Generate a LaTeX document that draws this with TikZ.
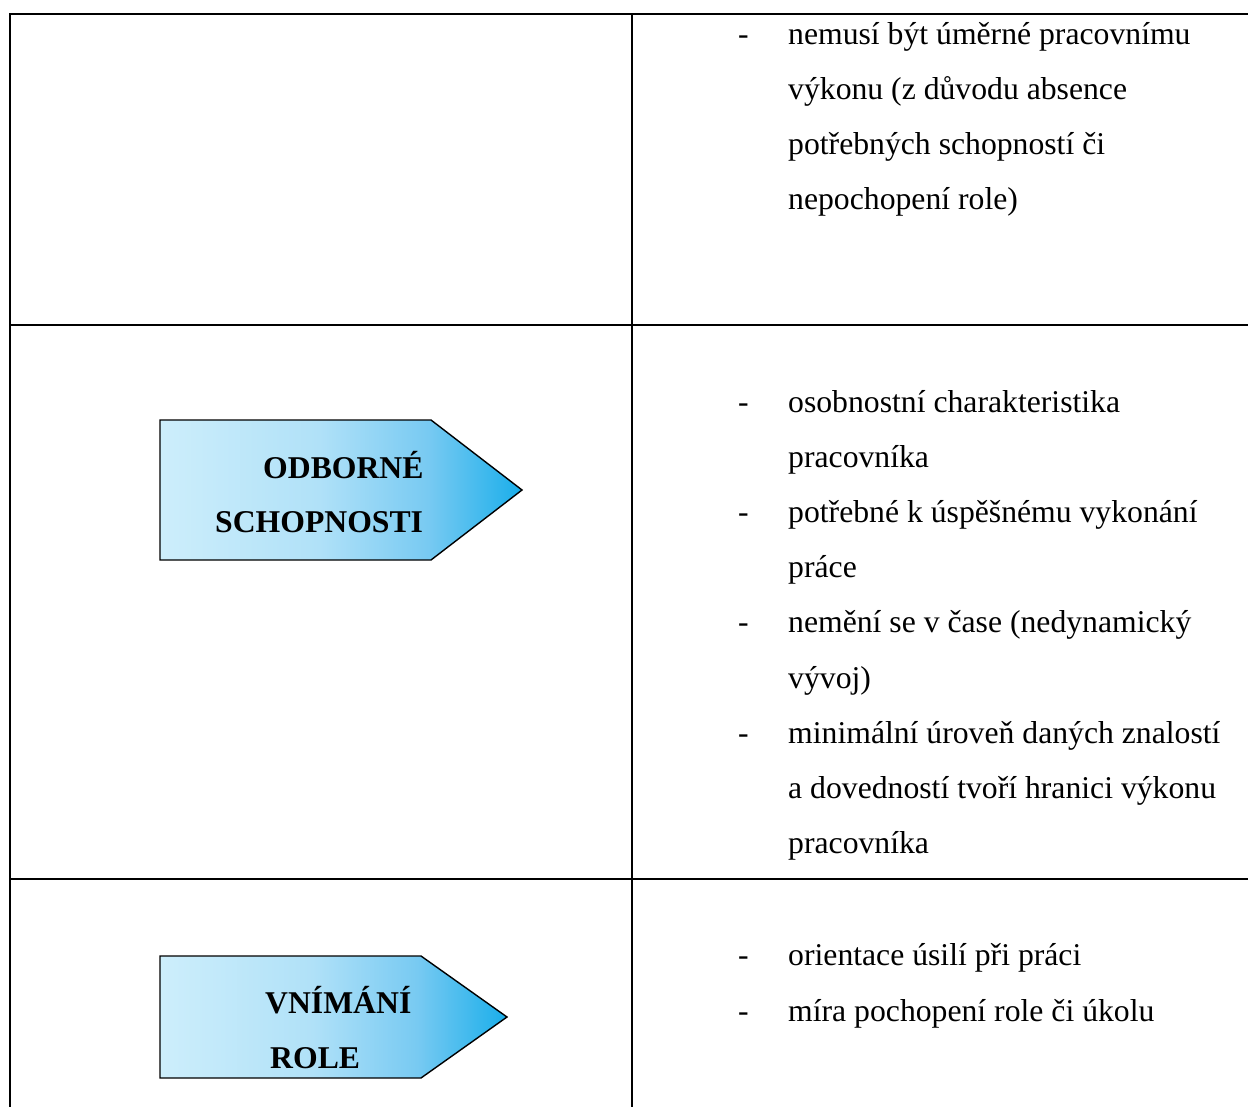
\documentclass[tikz,border=0pt]{standalone}
\usepackage{fontspec}
\setmainfont{Liberation Serif}
\definecolor{arrlight}{RGB}{205,238,251}
\definecolor{arrmid}{RGB}{176,225,248}
\definecolor{arrmid2}{RGB}{120,202,242}
\definecolor{arrdark}{RGB}{26,174,234}
% the visible part of a TikZ shading is the 25bp--75bp band
\pgfdeclarehorizontalshading{arrowshade}{100bp}{%
  color(0bp)=(arrlight); color(25bp)=(arrlight); color(47bp)=(arrmid);
  color(62bp)=(arrmid2); color(75bp)=(arrdark); color(100bp)=(arrdark)}
\tikzset{
  rule/.style={line width=2pt, line cap=rect},
  arrowbox/.style={draw=black, line width=1.4pt, line join=miter, shading=arrowshade},
  item/.style={anchor=base west, inner sep=0pt, font=\fontsize{31.7}{55}\selectfont},
  bullet/.style={anchor=base west, inner sep=0pt, font=\fontsize{31.7}{55}\selectfont},
  label/.style={anchor=base west, inner sep=0pt, font=\fontsize{31.7}{55}\selectfont\bfseries},
}
\begin{document}
\begin{tikzpicture}[x=1pt, y=-1pt]
\useasboundingbox (0,0) rectangle (1248,1107);

% table rules
\draw[rule] (1248,14) -- (10,14) -- (10,1107);
\draw[rule] (632,14) -- (632,1107);
\draw[rule] (10,325) -- (1248,325);
\draw[rule] (10,879) -- (1248,879);

% arrow-shaped labels
\path[arrowbox] (160,420) -- (431,420) -- (522,490) -- (431,560) -- (160,560) -- cycle;
\node[label] (odb1) at (263,478) {ODBORNÉ};
\node[label] (odb2) at (215,532) {SCHOPNOSTI};

\path[arrowbox] (160,956) -- (421,956) -- (507,1017) -- (421,1078) -- (160,1078) -- cycle;
\node[label] (vn1) at (265,1013) {VNÍMÁNÍ};
\node[label] (vn2) at (270,1068) {ROLE};

% first row
\node[bullet] (d1) at (738,45) {-};
\node[item] (t1a) at (788,45) {nemusí být úměrné pracovnímu};
\node[item] (t1b) at (788,100) {výkonu (z důvodu absence};
\node[item] (t1c) at (788,155) {potřebných schopností či};
\node[item] (t1d) at (788,210) {nepochopení role)};

% second row
\node[bullet] (d2) at (738,412) {-};
\node[item] (t2a) at (788,412) {osobnostní charakteristika};
\node[item] (t2b) at (788,467) {pracovníka};
\node[bullet] (d3) at (738,522) {-};
\node[item] (t2c) at (788,522) {potřebné k úspěšnému vykonání};
\node[item] (t2d) at (788,577) {práce};
\node[bullet] (d4) at (738,632) {-};
\node[item] (t2e) at (788,632) {nemění se v čase (nedynamický};
\node[item] (t2f) at (788,688) {vývoj)};
\node[bullet] (d5) at (738,743) {-};
\node[item] (t2g) at (788,743) {minimální úroveň daných znalostí};
\node[item] (t2h) at (788,798) {a dovedností tvoří hranici výkonu};
\node[item] (t2i) at (788,853) {pracovníka};

% third row
\node[bullet] (d6) at (738,965) {-};
\node[item] (t3a) at (788,965) {orientace úsilí při práci};
\node[bullet] (d7) at (738,1021) {-};
\node[item] (t3b) at (788,1021) {míra pochopení role či úkolu};
\end{tikzpicture}
\end{document}
